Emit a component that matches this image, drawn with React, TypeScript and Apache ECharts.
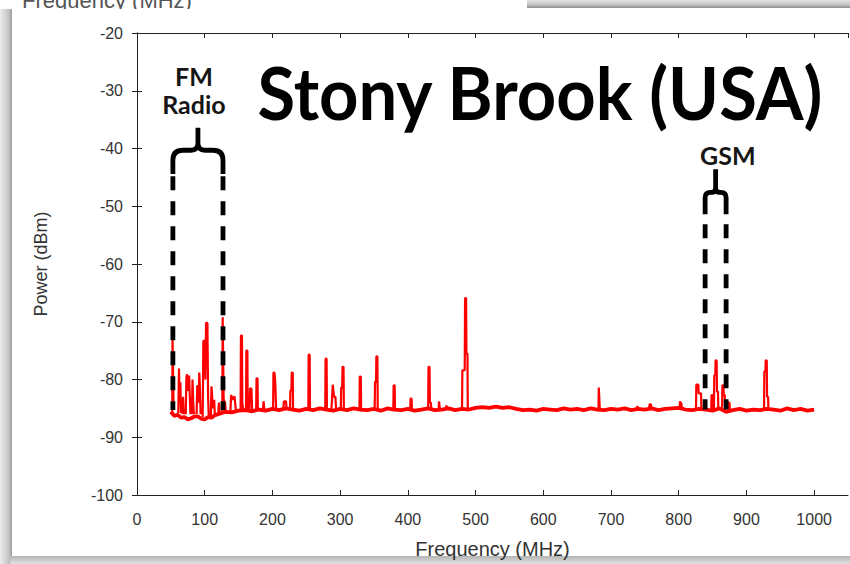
import React, { useEffect, useRef } from "react";
import * as echarts from "echarts";

// Background noise floor of the sweep, [MHz, dBm]
const noiseFloor: [number, number][] = [
  [50, -85.6], [55, -86.3], [60, -86.1], [65, -86.6], [70, -86.5], [75, -86.9], [80, -86.7], [85, -86.4],
  [90, -86.4], [95, -86.8], [100, -86.9], [105, -86.5], [110, -86.6], [115, -86.2], [120, -86.0], [125, -85.8],
  [130, -85.6], [140, -85.7], [150, -85.4], [160, -85.3], [170, -85.5], [180, -85.2], [190, -85.4], [200, -85.1],
  [210, -85.3], [220, -85.0], [230, -85.2], [240, -85.4], [250, -85.1], [260, -85.3], [270, -85.0], [280, -85.2],
  [290, -85.4], [300, -85.1], [310, -85.3], [320, -85.0], [330, -85.2], [340, -85.3], [350, -85.1], [360, -85.4],
  [370, -85.0], [380, -85.2], [390, -85.3], [400, -85.1], [410, -85.4], [420, -85.2], [430, -85.0], [440, -85.3],
  [450, -85.2], [460, -85.0], [470, -85.3], [480, -85.1], [490, -85.2], [500, -84.9], [510, -84.8], [520, -84.9],
  [530, -84.7], [540, -84.9], [550, -84.8], [560, -85.1], [570, -85.3], [580, -85.2], [590, -85.4], [600, -85.1],
  [610, -85.2], [620, -85.3], [630, -85.0], [640, -85.2], [650, -85.1], [660, -85.3], [670, -85.0], [680, -85.2],
  [690, -85.3], [700, -85.1], [710, -85.2], [720, -85.0], [730, -85.3], [740, -85.1], [750, -85.2], [760, -85.0],
  [770, -85.3], [780, -85.1], [790, -85.0], [800, -84.9], [810, -85.2], [820, -85.3], [830, -85.1], [840, -85.2],
  [850, -85.4], [860, -85.0], [870, -85.6], [880, -85.3], [890, -85.1], [900, -85.4], [910, -85.2], [920, -85.3],
  [930, -85.1], [940, -85.2], [950, -85.4], [960, -85.0], [970, -85.3], [980, -85.1], [990, -85.4], [1000, -85.2],
];

// Carriers rising out of the floor, each as its own run of [MHz, dBm] points
const carriers: [number, number][][] = [
  [[52, -86], [52.5, -73], [53.5, -73], [54, -84.5]],
  [[61, -85.8], [62, -78.1], [63, -84], [64, -80.5], [65, -85.8]],
  [[67, -86], [68, -83], [69, -86]],
  [[72, -86], [73, -79.5], [74, -79.1], [75, -82], [76, -79.8], [77, -79.3], [78, -83], [79, -86]],
  [[81, -86], [82, -80], [83, -84], [84, -86]],
  [[88, -86], [89, -81], [91, -84], [92, -78.8], [93, -82], [94, -86]],
  [[97, -86.5], [98, -73.3], [100, -73.3], [101, -80], [102, -70.2], [104, -70.2], [105, -83], [106, -86.5]],
  [[109, -86.5], [110, -81.2], [111, -81.2], [112, -85], [114, -83.5], [115, -86.3]],
  [[120, -86], [121, -84], [122, -86]],
  [[126, -85.8], [126.5, -69.2], [127.5, -69.2], [128, -83.5], [130, -84], [131, -85.5]],
  [[138, -85.5], [139, -82.7], [142, -83.5], [144, -82.9], [146, -85.3]],
  [[153, -85.3], [153.5, -72.4], [155, -72.4], [155.5, -84], [157, -85.3]],
  [[161, -85.3], [161.5, -75], [163, -75], [163.5, -85.3]],
  [[166, -85.3], [167, -81.5], [169, -81.6], [170, -85.3]],
  [[176, -85.3], [176.5, -79.8], [178, -79.8], [178.5, -85.3]],
  [[186, -85.2], [187, -83.8], [188, -85.2]],
  [[201, -85.3], [201.5, -78.8], [203, -78.8], [204, -80], [205, -80], [205.5, -85.2]],
  [[216, -85.3], [217, -83.8], [220, -83.8], [221, -85.2]],
  [[226, -85.3], [226.5, -81.9], [228, -81.9], [228.5, -78.8], [230, -78.8], [230.5, -85.2]],
  [[253, -85.3], [253.5, -75.7], [255, -75.7], [255.5, -85.2]],
  [[278, -85.3], [278.5, -76.4], [280, -76.4], [280.5, -85.2]],
  [[287, -85.3], [288, -83.5], [289, -80.9], [290, -80.9], [291, -83], [293, -83], [294, -85.2]],
  [[301, -85.3], [301.5, -81.4], [303, -81.4], [303.5, -77.8], [305, -77.8], [305.5, -85.2]],
  [[328.5, -85.3], [329, -79.5], [330.5, -79.5], [331, -85.2]],
  [[351, -85.3], [351.5, -80.4], [353, -80.4], [353.5, -76], [355, -76], [355.5, -85.2]],
  [[378.5, -85.3], [379, -81], [380.5, -81], [381, -85.2]],
  [[403.5, -85.3], [404, -83.3], [405.5, -83.3], [406, -85.2]],
  [[430, -85.3], [430.5, -77.8], [432, -77.8], [432.5, -84], [434, -84], [434.5, -85.2]],
  [[445.5, -85.2], [446, -83.8], [447, -83.8], [447.5, -85.2]],
  [[456, -85.2], [457, -84.5], [458, -85.2]],
  [[480, -85.3], [480.5, -78.4], [484, -78.4], [484.5, -65.9], [486, -65.9], [486.5, -75.5], [488, -75.5], [488.5, -85.2]],
  [[681.5, -85.3], [682, -81.4], [683, -81.4], [683.5, -85.2]],
  [[738, -85.2], [739, -84.6], [740, -85.2]],
  [[756, -85.2], [757, -84.3], [759, -84.3], [760, -85.2]],
  [[801, -85.2], [802, -83.8], [804, -84.2], [805, -85.2]],
  [[825.5, -85.3], [826, -80.9], [829, -80.9], [829.5, -82.4], [833, -82.4], [833.5, -85.2]],
  [[848, -85.3], [848.5, -82.7], [850, -82.7], [850.5, -85.2]],
  [[852, -85.3], [852.5, -79.3], [854, -79.3], [854.5, -76.7], [856, -76.7], [856.5, -82.1], [858, -82.1], [858.5, -85.2]],
  [[864, -85.3], [864.5, -81], [866, -81], [866.5, -82.7], [868, -82.7], [868.5, -85.2]],
  [[873, -85.2], [873.5, -84], [875, -84], [875.5, -85.2]],
  [[926, -85.3], [926.5, -78.6], [928, -78.6], [928.5, -76.7], [930, -76.7], [930.5, -83], [932, -83], [932.5, -85.2]],
];

// Service bands marked above the trace (edges in MHz, levels in dBm)
const bandNames = ["FM\nRadio", "GSM"];
const bandLowMHz = [53, 839];
const bandHighMHz = [127, 870];
const bandDashBottom = [-85.3, -85.2];
const bandDashTop = [-44.8, -53.1];
const bandArmBottom = [-44.4, -51.4];
const bandBracket = [-40.3, -47.6];
const bandStemTop = [-36.4, -43.6];
const bandLabelMHz = [84, 872.5];
const bandLabelDbm = [-29.9, -41.2];

const title = "Stony Brook (USA)";

export default function App() {
  const ref = useRef<HTMLDivElement>(null);

  useEffect(() => {
    if (!ref.current) return;
    const chart = echarts.init(ref.current, null, { renderer: "svg" });

    const carrierData: any[] = [];
    carriers.forEach((run) => {
      run.forEach((p) => carrierData.push(p));
      carrierData.push([run[run.length - 1][0], "-"]);
    });

    const bandData = bandNames.map((_, i) => [
      bandLowMHz[i], bandHighMHz[i], bandDashBottom[i], bandDashTop[i],
      bandArmBottom[i], bandBracket[i], bandStemTop[i], bandLabelMHz[i], bandLabelDbm[i],
    ]);

    const axisColor = "#222";
    const sans = "Liberation Sans, Arial, sans-serif";
    const labelFont = { color: "#333", fontFamily: sans, fontSize: 16 };

    chart.setOption({
      animation: false,
      backgroundColor: "#fff",
      grid: { left: 137, right: 2, top: 33, bottom: 67, show: false },
      xAxis: [
        {
          type: "value", min: 0, max: 1050, interval: 100, position: "bottom",
          name: "Frequency (MHz)", nameLocation: "middle", nameGap: 44,
          nameTextStyle: { color: "#333", fontFamily: sans, fontSize: 20 },
          axisLine: { show: true, lineStyle: { color: axisColor, width: 1 } },
          axisTick: { show: true, inside: true, length: 5, lineStyle: { color: axisColor } },
          axisLabel: { ...labelFont, margin: 16, showMaxLabel: false, formatter: (v: number) => String(v) },
          splitLine: { show: false },
        },
        {
          type: "value", min: 0, max: 1050, interval: 100, position: "top",
          axisLine: { show: true, lineStyle: { color: axisColor, width: 1 } },
          axisTick: { show: true, inside: true, length: 5, lineStyle: { color: axisColor } },
          axisLabel: { show: false },
          splitLine: { show: false },
        },
      ],
      yAxis: [
        {
          type: "value", min: -100, max: -20, interval: 10, position: "left",
          name: "Power (dBm)", nameLocation: "middle", nameGap: 87,
          nameTextStyle: { color: "#333", fontFamily: sans, fontSize: 18 },
          axisLine: { show: true, lineStyle: { color: axisColor, width: 1 } },
          axisTick: { show: true, inside: true, length: 5, lineStyle: { color: axisColor } },
          axisLabel: { ...labelFont, margin: 14, formatter: (v: number) => String(v) },
          splitLine: { show: false },
        },
        {
          type: "value", min: -100, max: -20, interval: 10, position: "right",
          axisLine: { show: true, lineStyle: { color: axisColor, width: 1 } },
          axisTick: { show: true, inside: true, length: 5, lineStyle: { color: axisColor } },
          axisLabel: { show: false },
          splitLine: { show: false },
        },
      ],
      series: [
        {
          name: "floor", type: "line", data: noiseFloor, showSymbol: false, symbol: "none",
          lineStyle: { color: "#ff0000", width: 3.8 }, z: 2,
        },
        {
          name: "carriers", type: "line", data: carrierData, showSymbol: false, symbol: "none",
          connectNulls: false, lineStyle: { color: "#ff0000", width: 2.2 }, z: 3,
        },
        {
          name: "bands", type: "custom", data: bandData, encode: { x: [0, 1, 7], y: [2, 3, 4, 5, 6, 8] },
          z: 5, clip: false,
          renderItem: (params: any, api: any) => {
            const [xl, yBot] = api.coord([api.value(0), api.value(2)]);
            const [xr] = api.coord([api.value(1), api.value(2)]);
            const yTop = api.coord([api.value(0), api.value(3)])[1];
            const yArm = api.coord([api.value(0), api.value(4)])[1];
            const yBar = api.coord([api.value(0), api.value(5)])[1];
            const yStem = api.coord([api.value(0), api.value(6)])[1];
            const [tx, ty] = api.coord([api.value(7), api.value(8)]);
            const xm = (xl + xr) / 2;
            const r = Math.min(10, (xr - xl) / 4);
            const c = Math.min(7, (xr - xl) / 5);
            const d =
              `M${xl} ${yArm} L${xl} ${yBar + r} Q${xl} ${yBar} ${xl + r} ${yBar} ` +
              `L${xm - c} ${yBar} Q${xm} ${yBar} ${xm} ${yBar - c} L${xm} ${yStem} ` +
              `M${xm} ${yBar - c} Q${xm} ${yBar} ${xm + c} ${yBar} ` +
              `L${xr - r} ${yBar} Q${xr} ${yBar} ${xr} ${yBar + r} L${xr} ${yArm}`;
            const dash = { stroke: "#000", lineWidth: 4.8, lineDash: [14, 11], fill: null };
            const lines = String(bandNames[params.dataIndex]).split("\n");
            const step = 28;
            const labels = lines.map((t, k) => ({
              type: "text", x: tx, y: ty + (k - (lines.length - 1) / 2) * step,
              style: {
                text: t, align: "center", verticalAlign: "middle",
                fontSize: 25, fontWeight: "bold", fontFamily: "Lato, sans-serif", fill: "#151515",
              },
            }));
            return {
              type: "group",
              children: [
                { type: "line", shape: { x1: xl, y1: yTop, x2: xl, y2: yBot }, style: dash },
                { type: "line", shape: { x1: xr, y1: yTop, x2: xr, y2: yBot }, style: dash },
                { type: "path", shape: { pathData: d }, style: { stroke: "#000", lineWidth: 4.8, fill: null } },
                ...labels,
              ],
            };
          },
        },
      ],
      graphic: [
        {
          type: "text", x: 22, y: 0, z: -20,
          style: {
            text: "Frequency (MHz)", fontSize: 22, fontFamily: sans,
            fill: "#555", verticalAlign: "middle",
          },
        },
        { type: "rect", z: -15, shape: { x: 12, y: 9, width: 838, height: 548 }, style: { fill: "#fff" } },
        {
          type: "rect", z: -14, shape: { x: 527, y: 0, width: 323, height: 8 },
          style: {
            fill: new echarts.graphic.LinearGradient(0, 0, 0, 1, [
              { offset: 0, color: "#e4e4e4" }, { offset: 0.6, color: "#c4c4c4" }, { offset: 1, color: "#8c8c8c" },
            ]),
          },
        },
        {
          type: "rect", z: -14, shape: { x: 0, y: 9, width: 12, height: 555 },
          style: {
            fill: new echarts.graphic.LinearGradient(0, 0, 1, 0, [
              { offset: 0, color: "#ececec" }, { offset: 0.7, color: "#c6c6c6" }, { offset: 1, color: "#9e9e9e" },
            ]),
          },
        },
        {
          type: "rect", z: -14, shape: { x: 10, y: 556, width: 840, height: 8 },
          style: {
            fill: new echarts.graphic.LinearGradient(0, 0, 0, 1, [
              { offset: 0, color: "#b4b4b4" }, { offset: 1, color: "#e2e2e2" },
            ]),
          },
        },
        {
          type: "text", x: 540, y: 92, z: 100, scaleX: 0.955, originX: 0, originY: 0,
          style: {
            text: title, align: "center", verticalAlign: "middle",
            fontSize: 72, fontWeight: "bold", fontFamily: "Lato, sans-serif", fill: "#000",
          },
        },
      ],
    });

    return () => chart.dispose();
  }, []);

  return (
    <div
      ref={ref}
      style={{ position: "fixed", left: 0, top: 0, width: 850, height: 564, background: "#fff" }}
    />
  );
}
